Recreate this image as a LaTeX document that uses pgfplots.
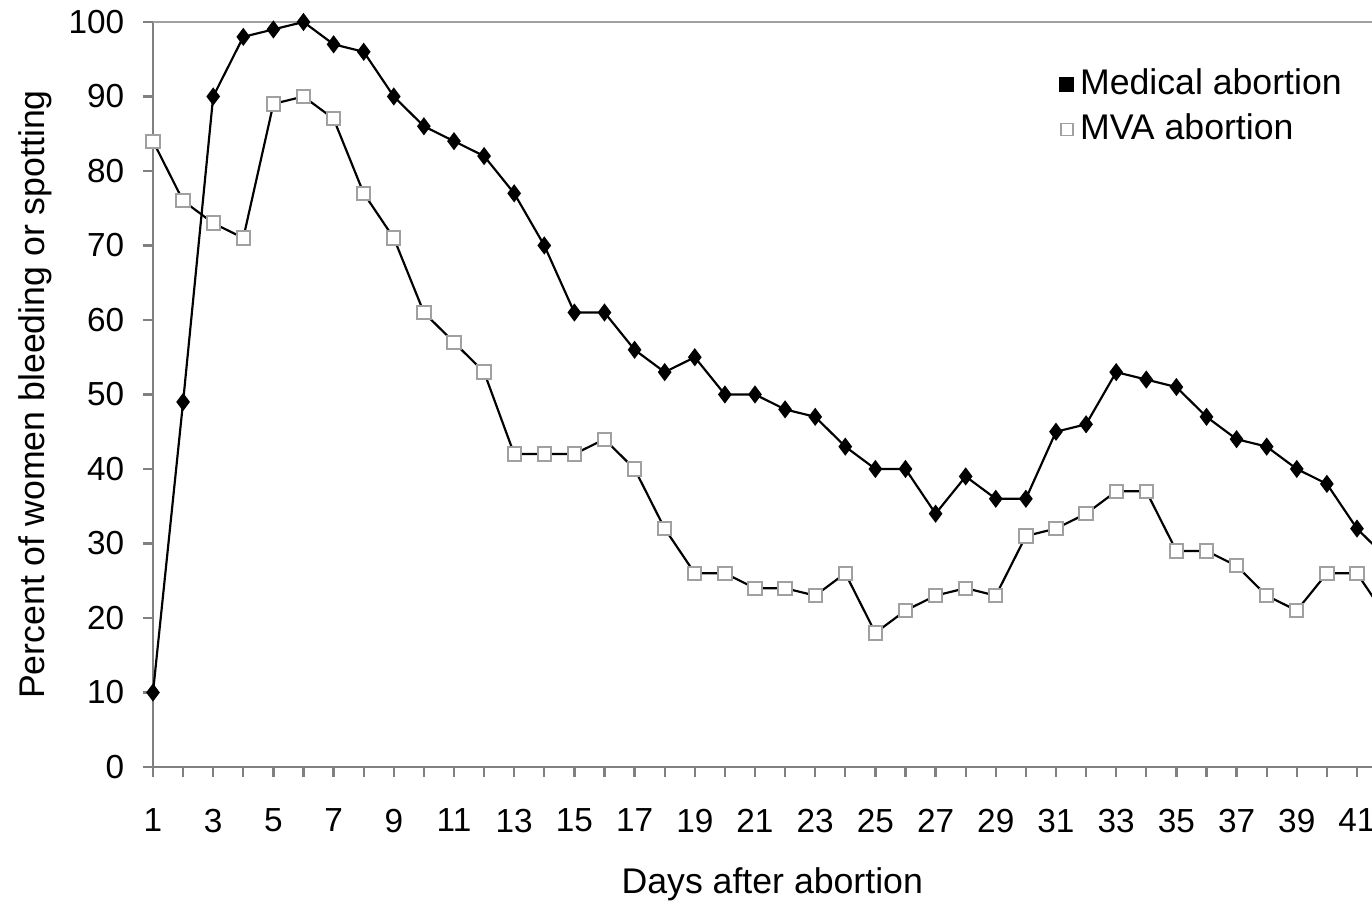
\documentclass[border=0pt]{standalone}
\usepackage{pgfplots}
\pgfplotsset{compat=1.18}
\usepackage{fontspec}
\setmainfont{Liberation Sans}
\definecolor{axgray}{HTML}{808080}
\definecolor{sqgray}{HTML}{A0A0A0}
\begin{document}
\begin{tikzpicture}
\begin{axis}[
  scale only axis,
  width=365.7pt, height=223.5pt,
  xmin=1, xmax=41.5, ymin=0, ymax=100,
  clip=false,
  axis x line*=bottom, axis y line*=left,
  axis line style={axgray, line width=0.7pt},
  xtick={1,3,...,41}, minor xtick={2,4,...,40},
  ytick={0,10,...,100},
  tick align=outside,
  major tick length=3pt, minor tick length=3pt,
  tick style={axgray, line width=0.7pt},
  /pgf/number format/assume math mode=true,
  tick label style={font=\fontsize{10}{12}\selectfont},
  xticklabel style={yshift=-6pt},
  yticklabel style={xshift=-2.1pt},
  every axis x label/.style={at={(axis description cs:0.508,-0.158)}, anchor=center},
  every axis y label/.style={at={(axis description cs:-0.0968,0.5)}, anchor=center, rotate=90},
  label style={font=\fontsize{10.7}{12.8}\selectfont},
  xlabel={Days after abortion},
  ylabel={Percent of women bleeding or spotting},
  legend style={at={(axis description cs:0.743,0.947)}, anchor=north west, draw=none, fill=none,
    font=\fontsize{10.7}{12.8}\selectfont, inner sep=0pt,
    nodes={text height=8pt, text depth=2pt, inner sep=1.75pt}},
  legend cell align=left,
  reverse legend,
]
\draw[sqgray, line width=0.7pt] (axis cs:1,100) -- (axis cs:41.5,100);
\addplot[black, line width=0.65pt, mark=square*, mark size=2pt,
  mark options={fill=white, draw=sqgray, line width=0.6pt},
  legend image code/.code={\draw[sqgray, fill=white, line width=0.5pt] (-1.8pt,-1.8pt) rectangle (1.8pt,1.8pt);}]
table {
x y
1 84
2 76
3 73
4 71
5 89
6 90
7 87
8 77
9 71
10 61
11 57
12 53
13 42
14 42
15 42
16 44
17 40
18 32
19 26
20 26
21 24
22 24
23 23
24 26
25 18
26 21
27 23
28 24
29 23
30 31
31 32
32 34
33 37
34 37
35 29
36 29
37 27
38 23
39 21
40 26
41 26
42 20
};
\addplot[black, line width=0.65pt, mark=diamond*, mark size=2.2pt,
  mark options={fill=black, draw=black},
  legend image code/.code={\fill[black] (-1.9pt,-1.9pt) rectangle (1.9pt,1.9pt);}]
table {
x y
1 10
2 49
3 90
4 98
5 99
6 100
7 97
8 96
9 90
10 86
11 84
12 82
13 77
14 70
15 61
16 61
17 56
18 53
19 55
20 50
21 50
22 48
23 47
24 43
25 40
26 40
27 34
28 39
29 36
30 36
31 45
32 46
33 53
34 52
35 51
36 47
37 44
38 43
39 40
40 38
41 32
42 28
};
\legend{MVA abortion, Medical abortion}
\end{axis}
\pgfresetboundingbox
\path[use as bounding box] (-45.9pt,-41.7pt) rectangle (365.7pt,230.1pt);
\end{tikzpicture}
\end{document}
